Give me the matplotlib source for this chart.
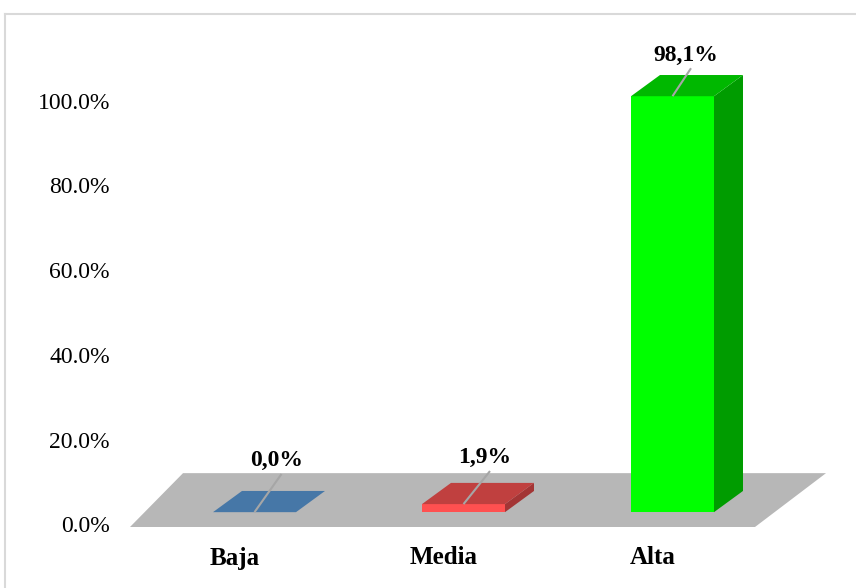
import matplotlib.pyplot as plt
from matplotlib.patches import Polygon, Rectangle
from matplotlib.lines import Line2D

categories = ['Baja', 'Media', 'Alta']
values = [0.0, 1.9, 98.1]
value_labels = ['0,0%', '1,9%', '98,1%']
yticks = [0, 20, 40, 60, 80, 100]
ytick_labels = ['0.0%', '20.0%', '40.0%', '60.0%', '80.0%', '100.0%']

front_colors = ['#4A7AAA', '#FF5050', '#00FF00']
top_colors = ['#4677A7', '#C0403F', '#00B800']
side_colors = ['#3A6590', '#A33535', '#009C00']

plt.rcParams['font.family'] = ['Liberation Serif', 'DejaVu Serif']

# vertical scale: 4.24 px per percent, zero line 527 px from the top
px_per_pct = 4.24
zero_px = 527

fig = plt.figure(figsize=(8.56, 5.88), dpi=100)
ax = fig.add_axes([0, 0, 1, 1])
ax.set_xlim(0, 856)
ax.set_ylim((zero_px - 588) / px_per_pct, zero_px / px_per_pct)
ax.axis('off')

# grey floor
floor_depth = 12.7
ax.add_patch(Polygon([(130, 0), (755, 0), (826, floor_depth), (183, floor_depth)],
                     closed=True, facecolor='#B7B7B7', edgecolor='none'))

bar_left = [213, 422, 631]
bar_w = 83
base = 3.5
dx, dz = 29, 5.0
label_off = [(22, 12.1), (21.5, 10.9), (13.5, 9.7)]

for i, v in enumerate(values):
    xl = bar_left[i]
    top = base + v
    if v > 0:
        ax.add_patch(Rectangle((xl, base), bar_w, v, facecolor=front_colors[i], edgecolor='none'))
        ax.add_patch(Polygon([(xl + bar_w, base), (xl + bar_w + dx, base + dz),
                              (xl + bar_w + dx, top + dz), (xl + bar_w, top)],
                             closed=True, facecolor=side_colors[i], edgecolor='none'))
    ax.add_patch(Polygon([(xl, top), (xl + bar_w, top), (xl + bar_w + dx, top + dz), (xl + dx, top + dz)],
                         closed=True, facecolor=top_colors[i], edgecolor='none'))

    # value label with leader line
    cx = xl + bar_w / 2
    lx, ly = cx + label_off[i][0], top + label_off[i][1]
    ax.plot([lx + 5, cx], [ly - 3.1, top], color='#A6A6A6', lw=1.5, solid_capstyle='butt')
    ax.text(lx, ly, value_labels[i], ha='center', va='center', fontsize=17, fontweight='bold')

    # category label
    ax.text(cx - 20, (zero_px - 558) / px_per_pct, categories[i], ha='center', va='center',
            fontsize=18, fontweight='bold')

for t, lab in zip(yticks, ytick_labels):
    ax.text(110, t, lab, ha='right', va='center', fontsize=17)

# chart area border
fig.add_artist(Line2D([4.5 / 856, 4.5 / 856], [0, 1 - 13.5 / 588], color='#D9D9D9', lw=1.5))
fig.add_artist(Line2D([4.5 / 856, 1], [1 - 13.5 / 588, 1 - 13.5 / 588], color='#D9D9D9', lw=1.5))

fig.savefig('out.png', dpi=100)
